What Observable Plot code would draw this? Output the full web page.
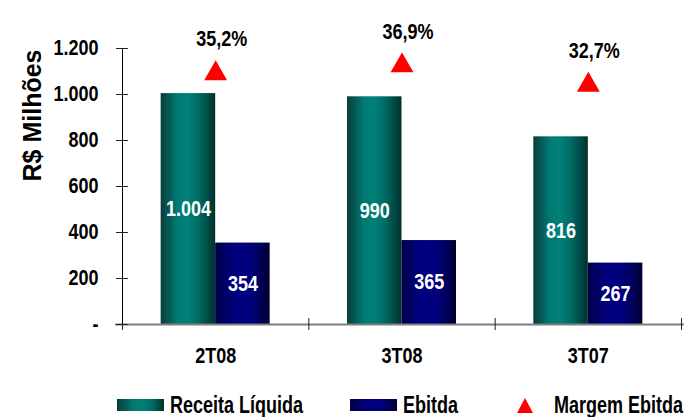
<!DOCTYPE html>
<html>
<head>
<meta charset="utf-8">
<script src="https://cdn.jsdelivr.net/npm/d3@7"></script>
<script src="https://cdn.jsdelivr.net/npm/@observablehq/plot@0.6"></script>
<style>
  html, body { margin: 0; padding: 0; background: #fff; overflow: hidden; }
  #wrap { position: relative; width: 684px; height: 417px; overflow: hidden; font-family: "Liberation Sans", Arial, sans-serif; font-weight: bold; }
  #legend { position: relative; width: 684px; height: 49px; font-size: 18px; color: #000; overflow: hidden; }
  .item { position: absolute; top: 27px; height: 20px; display: flex; align-items: center; }
  .sw { width: 47px; height: 12px; margin-right: 6px; }
  .lbl { display: inline-block; transform: scaleY(1.3); transform-origin: center; line-height: 20px; white-space: nowrap; }
</style>
</head>
<body>
<div id="wrap">
  <div id="chart"></div>
  <div id="legend"></div>
</div>
<script>
// ---- data ----
const quarters = ["2T08", "3T08", "3T07"];
const receita = [1004, 990, 816];
const ebitda = [354, 365, 267];
const margem = [35.2, 36.9, 32.7];
const yTicks = [0, 200, 400, 600, 800, 1000, 1200];
const yTickLabels = ["-", "200", "400", "600", "800", "1.000", "1.200"];
const margemAxis = [-20, 40]; // hidden secondary axis for Margem Ebitda
const seriesNames = ["Receita Líquida", "Ebitda", "Margem Ebitda"];
const yTitle = "R$ Milhões";

const loc = d3.formatLocale({decimal: ",", thousands: ".", grouping: [3], currency: ["R$", ""]});
const fmtInt = loc.format(",d");
const fmtPct = v => loc.format(".1f")(v) + "%";

const rows = quarters.map((q, i) => ({q, i, receita: receita[i], ebitda: ebitda[i], margem: margem[i]}));
const yMax = yTicks[yTicks.length - 1];
const toPrimary = m => (m - margemAxis[0]) / (margemAxis[1] - margemAxis[0]) * yMax;

const BW = 0.2925; // bar width in group units
const font = "'Liberation Sans', Arial, sans-serif";

const plot = Plot.plot({
  width: 684,
  height: 368,
  marginLeft: 122,
  marginRight: 3,
  marginTop: 48,
  marginBottom: 44,
  style: {fontFamily: font, fontWeight: "bold", fontSize: "18px", color: "#000", background: "#fff", overflow: "visible"},
  x: {type: "linear", domain: [0, quarters.length], axis: null},
  y: {domain: [0, yMax], axis: null},
  marks: [
    // bars
    Plot.rectY(rows, {x1: d => d.i + 0.5 - BW, x2: d => d.i + 0.5, y: "receita", fill: "url(#gGreen)"}),
    Plot.rectY(rows, {x1: d => d.i + 0.5, x2: d => d.i + 0.5 + BW, y: "ebitda", fill: "url(#gBlue)"}),
    // baseline
    Plot.ruleY([0], {x1: 0, x2: quarters.length, insetLeft: -7, insetRight: -3, stroke: "#808080", strokeWidth: 2}),
    // x group ticks
    Plot.ruleX(d3.range(quarters.length + 1), {y1: 0, y2: 0, insetTop: -6, insetBottom: -6, stroke: "#222", strokeWidth: 1}),
    // y axis line
    Plot.ruleX([0], {y1: 0, y2: yMax, stroke: "#000", strokeWidth: 1}),
    // y ticks
    Plot.ruleY(yTicks, {x1: 0, x2: 0, insetLeft: -6, insetRight: -6, stroke: "#222", strokeWidth: 1}),
    // y tick labels
    Plot.text(yTicks, {x: 0, y: d => d, text: (d, i) => yTickLabels[i], textAnchor: "end", dx: -24, fill: "#000"}),
    // y title
    Plot.text([yTitle], {frameAnchor: "top-left", rotate: -90, textAnchor: "middle", dx: -99, dy: 67, fontSize: 25, fill: "#000"}),
    // x labels
    Plot.text(rows, {x: d => d.i + 0.5, y: 0, text: "q", dy: 31.5, fill: "#000"}),
    // value labels
    Plot.text(rows, {x: d => d.i + 0.5 - BW / 2, y: d => d.receita / 2, text: d => fmtInt(d.receita), fill: "#fff"}),
    Plot.text(rows, {x: d => d.i + 0.5 + BW / 2, y: d => d.ebitda / 2, text: d => fmtInt(d.ebitda), fill: "#fff"}),
    // margem triangles
    Plot.dot(rows, {x: d => d.i + 0.5, y: d => toPrimary(d.margem), symbol: "triangle", r: 8.5, fill: "#ff0000", dy: 3}),
    Plot.text(rows, {x: d => d.i + 0.5, y: d => toPrimary(d.margem), text: d => fmtPct(d.margem), dx: 6, dy: -31, fill: "#000"})
  ]
});

const svg = d3.select(plot);
const defs = svg.insert("defs", ":first-child");
function grad(id, stops) {
  const g = defs.append("linearGradient").attr("id", id).attr("x1", 0).attr("x2", 1).attr("y1", 0).attr("y2", 0);
  stops.forEach(([o, c]) => g.append("stop").attr("offset", o).attr("stop-color", c));
}
grad("gGreen", [[0, "#0a3b38"], [0.3, "#007a72"], [0.5, "#008078"], [0.7, "#006a63"], [1, "#00302d"]]);
grad("gBlue", [[0, "#00004a"], [0.35, "#00007e"], [0.6, "#000080"], [0.8, "#000060"], [1, "#000030"]]);
document.getElementById("chart").appendChild(plot);

// stretch chart texts vertically (tall condensed look of the original)
plot.querySelectorAll("text").forEach(el => {
  if (el.textContent === yTitle) return;
  const bb = el.getBBox();
  const cx = bb.x + bb.width / 2, cy = bb.y + bb.height / 2;
  const t = el.getAttribute("transform") || "";
  el.setAttribute("transform", `${t} translate(${cx},${cy}) scale(1,1.18) translate(${-cx},${-cy})`);
});

// legend
const legend = document.getElementById("legend");
const css = {
  green: "linear-gradient(to right, #0a3b38, #007a72 35%, #008078 55%, #006a63 75%, #00302d)",
  blue: "linear-gradient(to right, #00004a, #00007e 35%, #000080 60%, #000060 80%, #000030)"
};
const items = [
  {left: 117, swatch: css.green, label: seriesNames[0]},
  {left: 350, swatch: css.blue, label: seriesNames[1]},
  {left: 517, tri: true, label: seriesNames[2]}
];
items.forEach(it => {
  const div = document.createElement("div");
  div.className = "item";
  div.style.left = it.left + "px";
  if (it.tri) {
    div.innerHTML = `<svg width="16" height="15" style="margin-right:21px"><polygon points="8,0 16,15 0,15" fill="#ff0000"/></svg><span class="lbl">${it.label}</span>`;
  } else {
    div.innerHTML = `<div class="sw" style="background:${it.swatch}"></div><span class="lbl">${it.label}</span>`;
  }
  legend.appendChild(div);
});
</script>
</body>
</html>
